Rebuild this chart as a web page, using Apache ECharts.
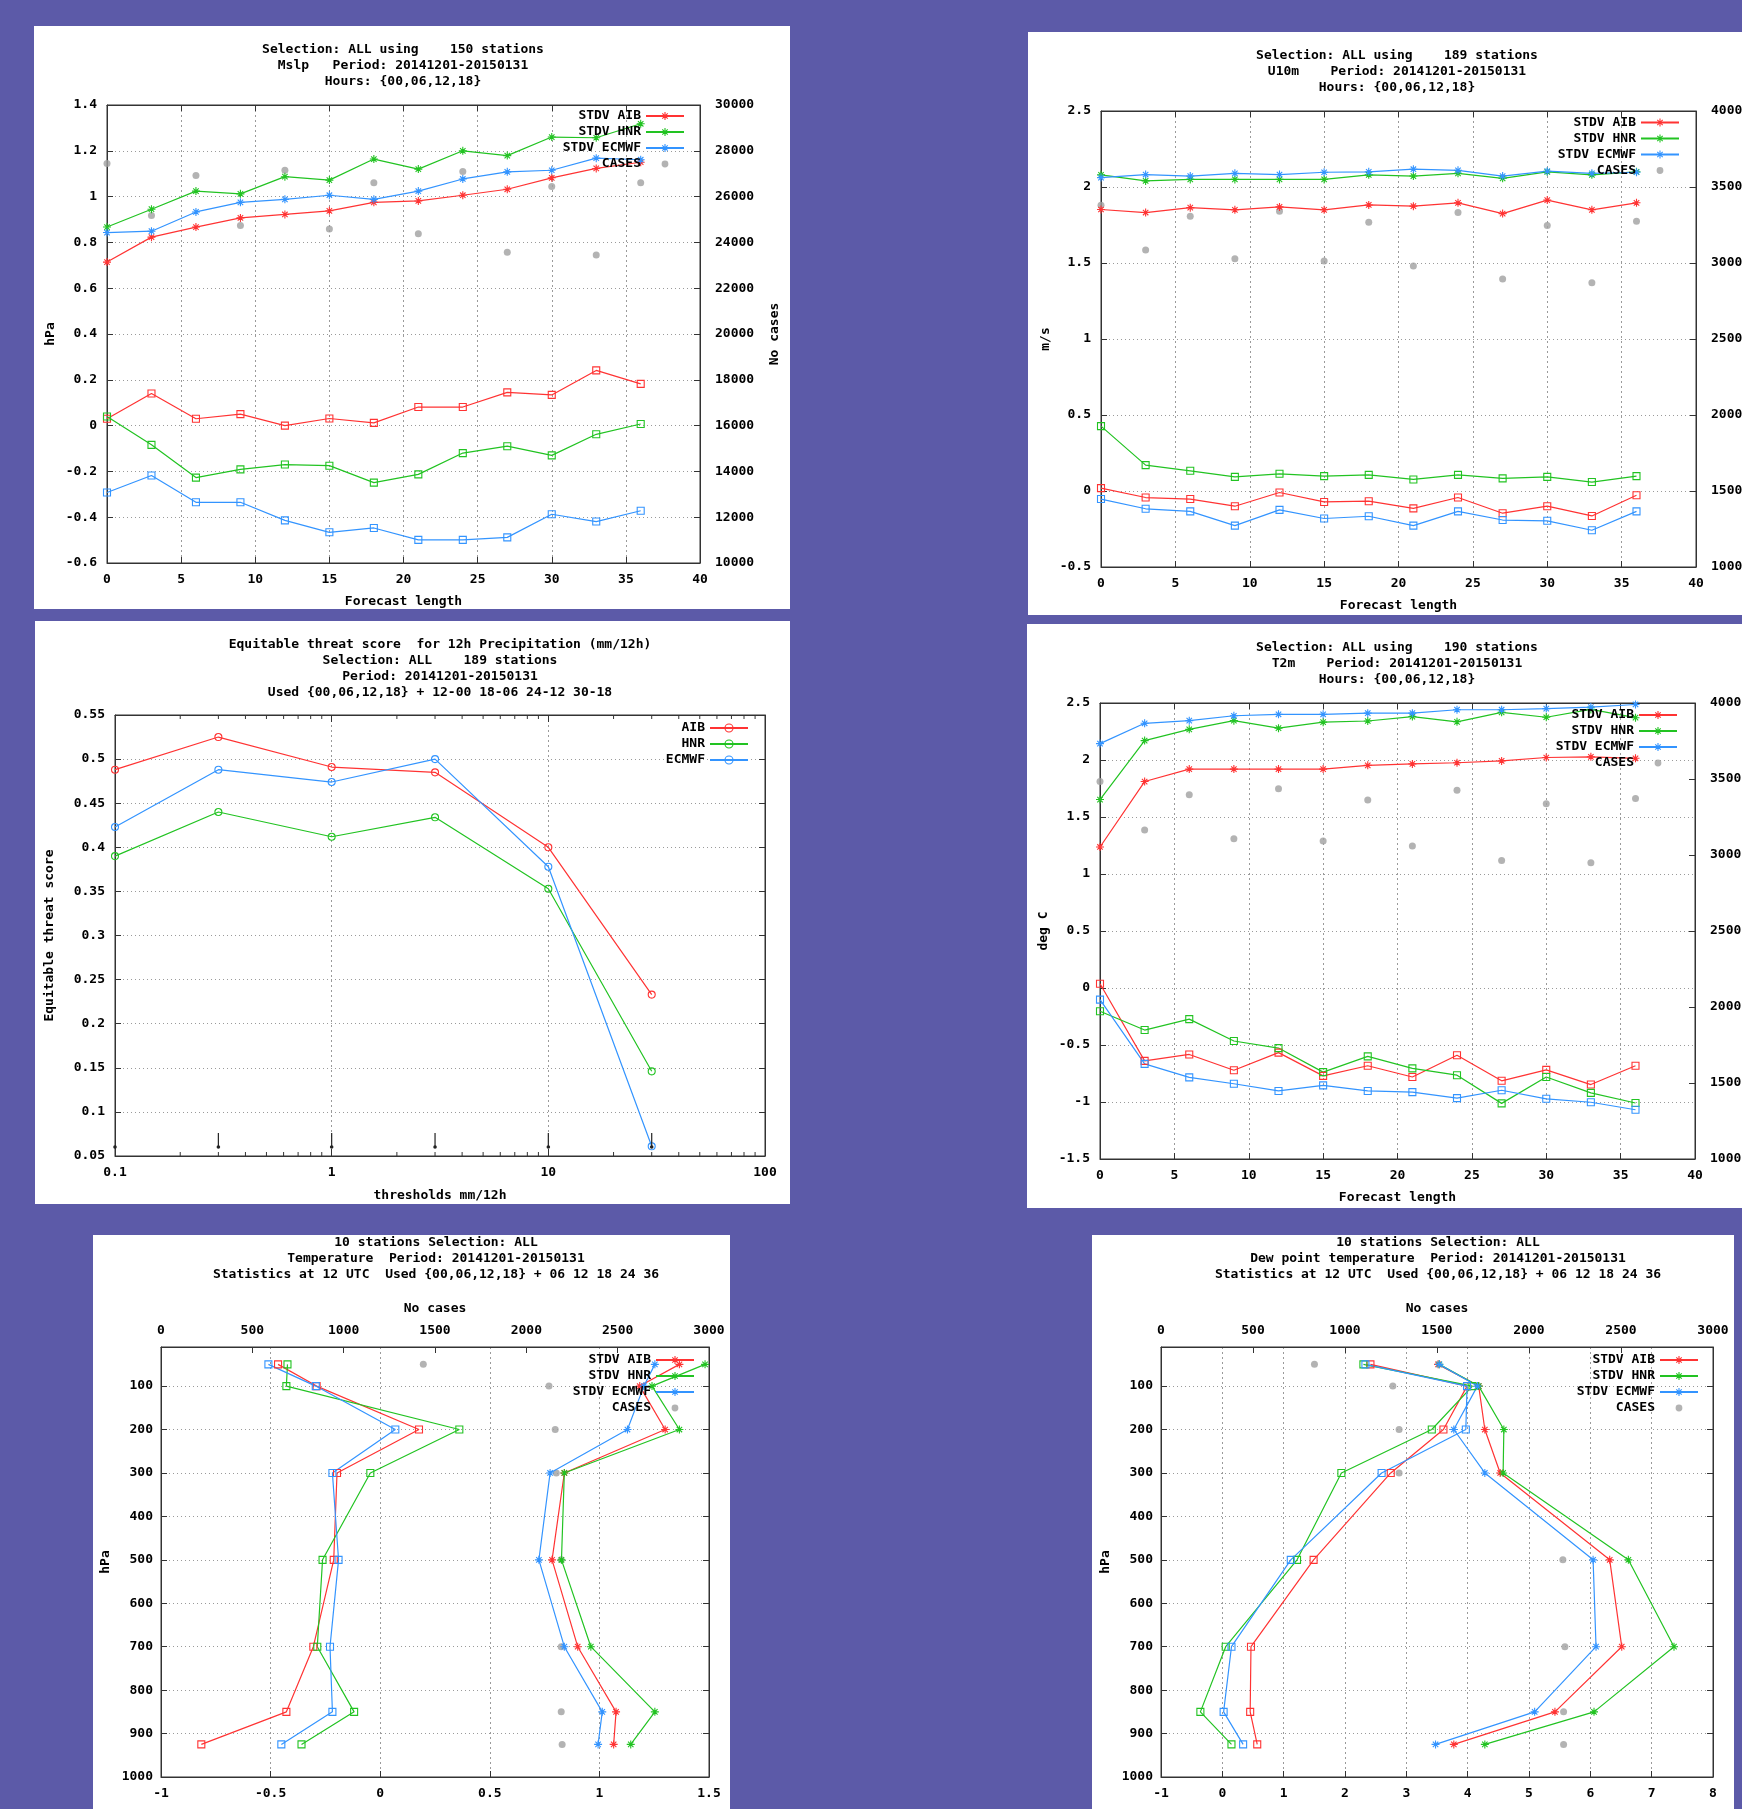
<!DOCTYPE html>
<html>
<head>
<meta charset="utf-8">
<title>AIB / HNR / ECMWF verification Dec 2014 - Jan 2015</title>
<script src="https://cdn.jsdelivr.net/npm/echarts@6.0.0/dist/echarts.min.js"></script>
<style>
html, body { margin: 0; padding: 0; background: #5c5aa8; }
#main { width: 1742px; height: 1809px; }
</style>
</head>
<body>
<div id="main"></div>
<script>
// forecast lengths (h) used by the surface panels
var steps = [0, 3, 6, 9, 12, 15, 18, 21, 24, 27, 30, 33, 36];

// Mslp (hPa)
var mslpStdvAib = [0.714, 0.823, 0.867, 0.907, 0.922, 0.938, 0.975, 0.981, 1.006, 1.032, 1.082, 1.123, 1.15];
var mslpStdvHnr = [0.867, 0.945, 1.024, 1.012, 1.087, 1.072, 1.164, 1.12, 1.2, 1.179, 1.26, 1.257, 1.318];
var mslpStdvEc = [0.843, 0.849, 0.933, 0.975, 0.988, 1.006, 0.988, 1.024, 1.077, 1.108, 1.115, 1.168, 1.161];
var mslpBiasAib = [0.03, 0.14, 0.03, 0.05, 0.0, 0.031, 0.012, 0.081, 0.081, 0.145, 0.134, 0.241, 0.182];
var mslpBiasHnr = [0.04, -0.084, -0.227, -0.191, -0.17, -0.175, -0.249, -0.213, -0.12, -0.09, -0.13, -0.038, 0.007];
var mslpBiasEc = [-0.292, -0.218, -0.335, -0.335, -0.414, -0.466, -0.447, -0.499, -0.499, -0.488, -0.387, -0.419, -0.372];
var mslpCases = [27440, 25170, 26920, 24740, 27150, 24580, 26600, 24380, 27100, 23570, 26440, 23450, 26600];

// U10m (m/s)
var u10StdvAib = [1.852, 1.832, 1.864, 1.85, 1.869, 1.85, 1.882, 1.874, 1.896, 1.825, 1.914, 1.85, 1.896];
var u10StdvHnr = [2.08, 2.04, 2.05, 2.05, 2.05, 2.05, 2.08, 2.072, 2.09, 2.057, 2.1, 2.08, 2.1];
var u10StdvEc = [2.062, 2.082, 2.072, 2.09, 2.082, 2.097, 2.1, 2.117, 2.11, 2.072, 2.104, 2.09, 2.097];
var u10BiasAib = [0.019, -0.043, -0.053, -0.1, -0.01, -0.072, -0.067, -0.114, -0.043, -0.146, -0.1, -0.164, -0.028];
var u10BiasHnr = [0.427, 0.17, 0.133, 0.093, 0.113, 0.098, 0.106, 0.076, 0.106, 0.083, 0.093, 0.059, 0.098];
var u10BiasEc = [-0.053, -0.117, -0.134, -0.228, -0.124, -0.181, -0.166, -0.228, -0.134, -0.191, -0.196, -0.258, -0.134];
var u10Cases = [3380, 3085, 3308, 3028, 3340, 3013, 3268, 2981, 3332, 2895, 3246, 2870, 3275];

// ETS 12h precipitation
var thresholds = [0.1, 0.3, 1, 3, 10, 30];
var etsAib = [0.488, 0.525, 0.491, 0.485, 0.400, 0.233];
var etsHnr = [0.390, 0.440, 0.412, 0.434, 0.353, 0.146];
var etsEc = [0.423, 0.488, 0.474, 0.500, 0.378, 0.061];
var etsBarLow = [0.0602, 0.0602, 0.0602, 0.0602, 0.0602, 0.0602];
var etsBarHigh = [0.0602, 0.076, 0.076, 0.076, 0.076, 0.076];
var logMinorTicks = [0.2, 0.3, 0.4, 0.5, 0.6, 0.7, 0.8, 0.9, 2, 3, 4, 5, 6, 7, 8, 9, 20, 30, 40, 50, 60, 70, 80, 90];

// T2m (deg C)
var t2StdvAib = [1.237, 1.811, 1.92, 1.92, 1.92, 1.92, 1.953, 1.966, 1.976, 1.992, 2.022, 2.028, 2.015];
var t2StdvHnr = [1.653, 2.17, 2.269, 2.345, 2.279, 2.332, 2.342, 2.381, 2.335, 2.418, 2.375, 2.444, 2.371];
var t2StdvEc = [2.144, 2.322, 2.345, 2.388, 2.401, 2.401, 2.411, 2.411, 2.441, 2.441, 2.451, 2.464, 2.487];
var t2BiasAib = [0.037, -0.639, -0.583, -0.722, -0.567, -0.771, -0.682, -0.781, -0.59, -0.814, -0.718, -0.847, -0.682];
var t2BiasHnr = [-0.204, -0.369, -0.273, -0.465, -0.527, -0.738, -0.6, -0.705, -0.765, -1.012, -0.781, -0.92, -1.009];
var t2BiasEc = [-0.102, -0.666, -0.784, -0.84, -0.903, -0.854, -0.903, -0.913, -0.966, -0.897, -0.972, -1.002, -1.068];
var t2Cases = [3483, 3164, 3397, 3107, 3436, 3092, 3362, 3060, 3426, 2964, 3337, 2949, 3372];

// upper air profiles (hPa levels)
var levels = [50, 100, 200, 300, 500, 700, 850, 925];
var levelTicks = [100, 200, 300, 400, 500, 600, 700, 800, 900, 1000];

var tempBiasAib = [-0.466, -0.29, 0.177, -0.197, -0.212, -0.305, -0.428, -0.816];
var tempBiasHnr = [-0.423, -0.428, 0.361, -0.045, -0.263, -0.287, -0.119, -0.359];
var tempBiasEc = [-0.51, -0.294, 0.069, -0.218, -0.19, -0.229, -0.218, -0.451];
var tempStdvAib = [1.365, 1.184, 1.3, 0.84, 0.784, 0.901, 1.076, 1.065];
var tempStdvHnr = [1.482, 1.24, 1.365, 0.84, 0.827, 0.961, 1.253, 1.143];
var tempStdvEc = [1.253, 1.203, 1.128, 0.775, 0.724, 0.84, 1.013, 0.994];
var tempCases = [1436, 2124, 2158, 2164, 2191, 2191, 2191, 2196];

var dewBiasAib = [2.415, 3.99, 3.605, 2.746, 1.488, 0.467, 0.454, 0.569];
var dewBiasHnr = [2.3, 4.078, 3.415, 1.941, 1.218, 0.055, -0.358, 0.149];
var dewBiasEc = [2.333, 3.99, 3.97, 2.597, 1.116, 0.149, 0.021, 0.339];
var dewStdvAib = [3.517, 4.18, 4.28, 4.53, 6.316, 6.512, 5.423, 3.774];
var dewStdvHnr = [3.537, 4.18, 4.59, 4.578, 6.62, 7.364, 6.06, 4.28];
var dewStdvEc = [3.537, 4.159, 3.774, 4.28, 6.045, 6.093, 5.092, 3.476];
var dewCases = [834, 1260, 1294, 1294, 2184, 2195, 2188, 2188];

// styles
var MONO = '"DejaVu Sans Mono", "Liberation Mono", monospace';
var C_AIB = '#ff3333', C_HNR = '#22c322', C_EC = '#3394ff', C_CASES = '#a0a0a0';
var STAR = 'path://M5,0L5,10M0,5L10,5M1.6,1.6L8.4,8.4M8.4,1.6L1.6,8.4';
var SQUARE = 'path://M0,0L10,0L10,10L0,10Z';
var DOT_ICON = 'path://M0,0h0.01M38,10h0.01M19,1.6a3.4,3.4,0,1,1,0,6.8a3.4,3.4,0,1,1,0,-6.8z';

function txt(extra) {
    return Object.assign({fontFamily: MONO, fontWeight: 'bold', fontSize: 13, color: '#000'}, extra || {});
}
function fmt(v) { return String(Math.round(v * 10000) / 10000); }
function pairs(xs, ys) { return xs.map(function (x, i) { return [x, ys[i]]; }); }
function pad(n) { return function (s) { while (s.length < n) s = ' ' + s; return s; }; }
var axLine = {show: true, onZero: false, lineStyle: {color: '#333', width: 1}};
function ticks(extra) { return Object.assign({show: true, inside: true, length: 6, lineStyle: {color: '#333', width: 1}}, extra || {}); }
var hGrid = {show: true, lineStyle: {color: '#9a9a9a', width: 1, type: [1, 3]}};
var vGrid = {show: true, lineStyle: {color: '#9a9a9a', width: 1, type: [2, 3]}};

var option = {
    backgroundColor: '#5c5aa8',
    animation: false,
    grid: [], xAxis: [], yAxis: [], series: [], legend: [], graphic: []
};

function addGrid(l, t, w, h) {
    option.grid.push({left: l, top: t, width: w, height: h, show: true, borderColor: '#333', borderWidth: 1,
        outerBoundsMode: 'none', containLabel: false});
    return option.grid.length - 1;
}
function addX(o) { option.xAxis.push(Object.assign({nameMoveOverlap: false}, o)); return option.xAxis.length - 1; }
function addY(o) { option.yAxis.push(Object.assign({nameMoveOverlap: false}, o)); return option.yAxis.length - 1; }

function starLine(name, data, color, xi, yi) {
    return {type: 'line', name: name, data: data, xAxisIndex: xi, yAxisIndex: yi, symbol: STAR, symbolSize: 8,
        silent: true, z: 3, lineStyle: {color: color, width: 1.2},
        itemStyle: {color: color, borderColor: color, borderWidth: 1.1}};
}
function squareLine(name, data, color, xi, yi) {
    return {type: 'line', name: name, data: data, xAxisIndex: xi, yAxisIndex: yi, symbol: SQUARE, symbolSize: 7,
        silent: true, z: 3, lineStyle: {color: color, width: 1.2},
        itemStyle: {color: 'rgba(0,0,0,0)', borderColor: color, borderWidth: 1.1}};
}
function circleLine(name, data, color, xi, yi) {
    return {type: 'line', name: name, data: data, xAxisIndex: xi, yAxisIndex: yi, symbol: 'circle', symbolSize: 7,
        silent: true, z: 3, lineStyle: {color: color, width: 1.2},
        itemStyle: {color: 'rgba(0,0,0,0)', borderColor: color, borderWidth: 1.1}};
}
function casesDots(data, xi, yi) {
    return {type: 'scatter', name: 'CASES', data: data, xAxisIndex: xi, yAxisIndex: yi, symbol: 'circle',
        symbolSize: 7, silent: true, z: 2, itemStyle: {color: C_CASES}};
}
function addLegend(right, top, names, width) {
    option.legend.push({
        orient: 'vertical', align: 'right', right: right, top: top, padding: 0,
        itemWidth: 38, itemHeight: 10, itemGap: 1, selectedMode: false,
        itemStyle: {borderWidth: 1.1},
        textStyle: txt({lineHeight: 15}), formatter: pad(width),
        data: names.map(function (n) {
            return n === 'CASES' ? {name: n, icon: DOT_ICON, itemStyle: {borderWidth: 0}} : {name: n};
        })
    });
}
function addTitle(cx, top, lines) {
    option.graphic.push({type: 'text', x: cx, y: top, silent: true, style: {
        text: lines.join('\n'), font: 'bold 13px ' + MONO, textAlign: 'center', textVerticalAlign: 'top',
        lineHeight: 16, fill: '#000'}});
}
function addPanelBox(x, y, w, h) {
    option.graphic.push({type: 'rect', z: -10, silent: true, shape: {x: x, y: y, width: w, height: h}, style: {fill: '#fff'}});
}

// time-series panel (forecast length on x, score on left y, cases on right y)
function timePanel(box, g, yMin, yMax, yStep, yName, yNameGap, cMin, cMax, cStep, cName, stdv, bias, cases, leg, title) {
    addPanelBox(box[0], box[1], box[2], box[3]);
    var gi = addGrid(g[0], g[1], g[2], g[3]);
    var xb = addX({type: 'value', gridIndex: gi, min: 0, max: 40, interval: 5, position: 'bottom',
        name: 'Forecast length', nameLocation: 'middle', nameGap: 32, nameTextStyle: txt(),
        axisLabel: txt({margin: 10, formatter: fmt}), axisTick: ticks(), axisLine: axLine, splitLine: vGrid});
    addX({type: 'value', gridIndex: gi, min: 0, max: 40, interval: 5, position: 'top',
        axisLabel: {show: false}, axisTick: ticks(), axisLine: axLine, splitLine: {show: false}});
    var yl = addY({type: 'value', gridIndex: gi, min: yMin, max: yMax, interval: yStep, position: 'left',
        name: yName, nameLocation: 'middle', nameRotate: 90, nameGap: yNameGap, nameTextStyle: txt(),
        axisLabel: txt({margin: 10, formatter: fmt}), axisTick: ticks(), axisLine: axLine, splitLine: hGrid});
    var yr = addY({type: 'value', gridIndex: gi, min: cMin, max: cMax, interval: cStep, position: 'right',
        name: cName, nameLocation: 'middle', nameRotate: 90, nameGap: 68, nameTextStyle: txt(),
        axisLabel: txt({margin: 15, formatter: fmt, align: 'left'}), axisTick: ticks(), axisLine: axLine, splitLine: {show: false}});
    option.series.push(starLine('STDV AIB', pairs(steps, stdv[0]), C_AIB, xb, yl));
    option.series.push(starLine('STDV HNR', pairs(steps, stdv[1]), C_HNR, xb, yl));
    option.series.push(starLine('STDV ECMWF', pairs(steps, stdv[2]), C_EC, xb, yl));
    option.series.push(squareLine('BIAS AIB', pairs(steps, bias[0]), C_AIB, xb, yl));
    option.series.push(squareLine('BIAS HNR', pairs(steps, bias[1]), C_HNR, xb, yl));
    option.series.push(squareLine('BIAS ECMWF', pairs(steps, bias[2]), C_EC, xb, yl));
    option.series.push(casesDots(pairs(steps, cases), xb, yr));
    addLegend(leg[0], leg[1], ['STDV AIB', 'STDV HNR', 'STDV ECMWF', 'CASES'], 10);
    addTitle(title[0], title[1], title[2]);
}

// vertical profile panel (score on bottom x, cases on top x, pressure on y)
function profilePanel(box, g, xMin, xMax, stdv, bias, cases, leg, title) {
    addPanelBox(box[0], box[1], box[2], box[3]);
    var gi = addGrid(g[0], g[1], g[2], g[3]);
    var xb = addX({type: 'value', gridIndex: gi, min: xMin, max: xMax, interval: xMax - xMin > 4 ? 1 : 0.5, position: 'bottom',
        axisLabel: txt({margin: 10, formatter: fmt}), axisTick: ticks(), axisLine: axLine, splitLine: vGrid});
    var xt = addX({type: 'value', gridIndex: gi, min: 0, max: 3000, interval: 500, position: 'top',
        name: 'No cases', nameLocation: 'middle', nameGap: 32, nameTextStyle: txt(),
        axisLabel: txt({margin: 10, formatter: fmt}), axisTick: ticks(), axisLine: axLine, splitLine: {show: false}});
    var yl = addY({type: 'value', gridIndex: gi, min: 10, max: 1000, inverse: true, position: 'left',
        name: 'hPa', nameLocation: 'middle', nameRotate: 90, nameGap: 49, nameTextStyle: txt(),
        axisLabel: txt({margin: 8, formatter: fmt, customValues: levelTicks}),
        axisTick: ticks({customValues: levelTicks}), axisLine: axLine, splitLine: hGrid});
    addY({type: 'value', gridIndex: gi, min: 10, max: 1000, inverse: true, position: 'right',
        axisLabel: {show: false, customValues: levelTicks}, axisTick: ticks({customValues: levelTicks}),
        axisLine: axLine, splitLine: {show: false}});
    option.series.push(squareLine('BIAS AIB', pairs(bias[0], levels), C_AIB, xb, yl));
    option.series.push(squareLine('BIAS HNR', pairs(bias[1], levels), C_HNR, xb, yl));
    option.series.push(squareLine('BIAS ECMWF', pairs(bias[2], levels), C_EC, xb, yl));
    option.series.push(starLine('STDV AIB', pairs(stdv[0], levels), C_AIB, xb, yl));
    option.series.push(starLine('STDV HNR', pairs(stdv[1], levels), C_HNR, xb, yl));
    option.series.push(starLine('STDV ECMWF', pairs(stdv[2], levels), C_EC, xb, yl));
    option.series.push(casesDots(pairs(cases, levels), xt, yl));
    addLegend(leg[0], leg[1], ['STDV AIB', 'STDV HNR', 'STDV ECMWF', 'CASES'], 10);
    addTitle(title[0], title[1], title[2]);
}

// panel 1: Mslp
timePanel([34, 26, 756, 583], [107, 105, 593, 458], -0.6, 1.4, 0.2, 'hPa', 50, 10000, 30000, 2000, 'No cases',
    [mslpStdvAib, mslpStdvHnr, mslpStdvEc], [mslpBiasAib, mslpBiasHnr, mslpBiasEc], mslpCases,
    [1057, 108.5], [403, 41.5, ['Selection: ALL using    150 stations', 'Mslp   Period: 20141201-20150131', 'Hours: {00,06,12,18}']]);

// panel 2: U10m
timePanel([1028, 32, 714, 583], [1101, 111, 595, 456], -0.5, 2.5, 0.5, 'm/s', 49, 1000, 4000, 500, '',
    [u10StdvAib, u10StdvHnr, u10StdvEc], [u10BiasAib, u10BiasHnr, u10BiasEc], u10Cases,
    [62, 115], [1397, 47.6, ['Selection: ALL using    189 stations', 'U10m    Period: 20141201-20150131', 'Hours: {00,06,12,18}']]);

// panel 3: equitable threat score
(function () {
    addPanelBox(35, 621, 755, 583);
    var gi = addGrid(115, 715, 650, 441);
    var xb = addX({type: 'log', logBase: 10, gridIndex: gi, min: 0.1, max: 100, position: 'bottom',
        name: 'thresholds mm/12h', nameLocation: 'middle', nameGap: 33, nameTextStyle: txt(),
        axisLabel: txt({margin: 10, formatter: fmt}), axisTick: ticks({length: 7}), axisLine: axLine,
        splitLine: vGrid, minorTick: {show: false}});
    addX({type: 'log', logBase: 10, gridIndex: gi, min: 0.1, max: 100, position: 'top',
        axisLabel: {show: false}, axisTick: ticks({length: 7}), axisLine: axLine, splitLine: {show: false}});
    var yl = addY({type: 'value', gridIndex: gi, min: 0.05, max: 0.55, interval: 0.05, position: 'left',
        name: 'Equitable threat score', nameLocation: 'middle', nameRotate: 90, nameGap: 59, nameTextStyle: txt(),
        axisLabel: txt({margin: 10, formatter: fmt}), axisTick: ticks(), axisLine: axLine, splitLine: hGrid});
    addY({type: 'value', gridIndex: gi, min: 0.05, max: 0.55, interval: 0.05, position: 'right',
        axisLabel: {show: false}, axisTick: ticks(), axisLine: axLine, splitLine: {show: false}});
    option.series.push(circleLine('AIB', pairs(thresholds, etsAib), C_AIB, xb, yl));
    option.series.push(circleLine('HNR', pairs(thresholds, etsHnr), C_HNR, xb, yl));
    option.series.push(circleLine('ECMWF', pairs(thresholds, etsEc), C_EC, xb, yl));
    // small black bars near the bottom of the plot
    option.series.push({type: 'custom', name: 'bars', xAxisIndex: xb, yAxisIndex: yl, silent: true, z: 4,
        data: thresholds.map(function (t, i) { return [t, etsBarLow[i], etsBarHigh[i]]; }),
        renderItem: function (params, api) {
            var lo = api.coord([api.value(0), api.value(1)]);
            var hi = api.coord([api.value(0), api.value(2)]);
            return {type: 'group', children: [
                {type: 'line', shape: {x1: lo[0], y1: lo[1], x2: hi[0], y2: hi[1]}, style: {stroke: '#222', lineWidth: 1.2}},
                {type: 'circle', shape: {cx: lo[0], cy: lo[1], r: 1.8}, style: {fill: '#222'}}
            ]};
        }});
    // log minor ticks on bottom and top borders
    option.series.push({type: 'custom', name: 'minor', xAxisIndex: xb, yAxisIndex: yl, silent: true, z: 4,
        data: logMinorTicks.map(function (v) { return [v]; }),
        renderItem: function (params, api) {
            var b = api.coord([api.value(0), 0.05]);
            var t = api.coord([api.value(0), 0.55]);
            return {type: 'group', children: [
                {type: 'line', shape: {x1: b[0], y1: b[1], x2: b[0], y2: b[1] - 4}, style: {stroke: '#333', lineWidth: 1}},
                {type: 'line', shape: {x1: t[0], y1: t[1], x2: t[0], y2: t[1] + 4}, style: {stroke: '#333', lineWidth: 1}}
            ]};
        }});
    addLegend(993, 720.5, ['AIB', 'HNR', 'ECMWF'], 5);
    addTitle(440, 636.5, ['Equitable threat score  for 12h Precipitation (mm/12h)', 'Selection: ALL    189 stations',
        'Period: 20141201-20150131', 'Used {00,06,12,18} + 12-00 18-06 24-12 30-18']);
})();

// panel 4: T2m
timePanel([1027, 624, 715, 584], [1100, 703, 595, 456], -1.5, 2.5, 0.5, 'deg C', 50, 1000, 4000, 500, '',
    [t2StdvAib, t2StdvHnr, t2StdvEc], [t2BiasAib, t2BiasHnr, t2BiasEc], t2Cases,
    [64, 707.5], [1397, 639.6, ['Selection: ALL using    190 stations', 'T2m    Period: 20141201-20150131', 'Hours: {00,06,12,18}']]);

// panel 5: temperature profile
profilePanel([93, 1235, 637, 574], [161, 1347, 548, 430], -1, 1.5,
    [tempStdvAib, tempStdvHnr, tempStdvEc], [tempBiasAib, tempBiasHnr, tempBiasEc], tempCases,
    [1047, 1352.5], [436, 1235, ['10 stations Selection: ALL', 'Temperature  Period: 20141201-20150131',
        'Statistics at 12 UTC  Used {00,06,12,18} + 06 12 18 24 36']]);

// panel 6: dew point profile
profilePanel([1092, 1235, 642, 574], [1161, 1347, 552, 430], -1, 8,
    [dewStdvAib, dewStdvHnr, dewStdvEc], [dewBiasAib, dewBiasHnr, dewBiasEc], dewCases,
    [43, 1352.5], [1438, 1235, ['10 stations Selection: ALL', 'Dew point temperature  Period: 20141201-20150131',
        'Statistics at 12 UTC  Used {00,06,12,18} + 06 12 18 24 36']]);

var myChart = echarts.init(document.getElementById('main'));
myChart.setOption(option);
</script>
</body>
</html>
